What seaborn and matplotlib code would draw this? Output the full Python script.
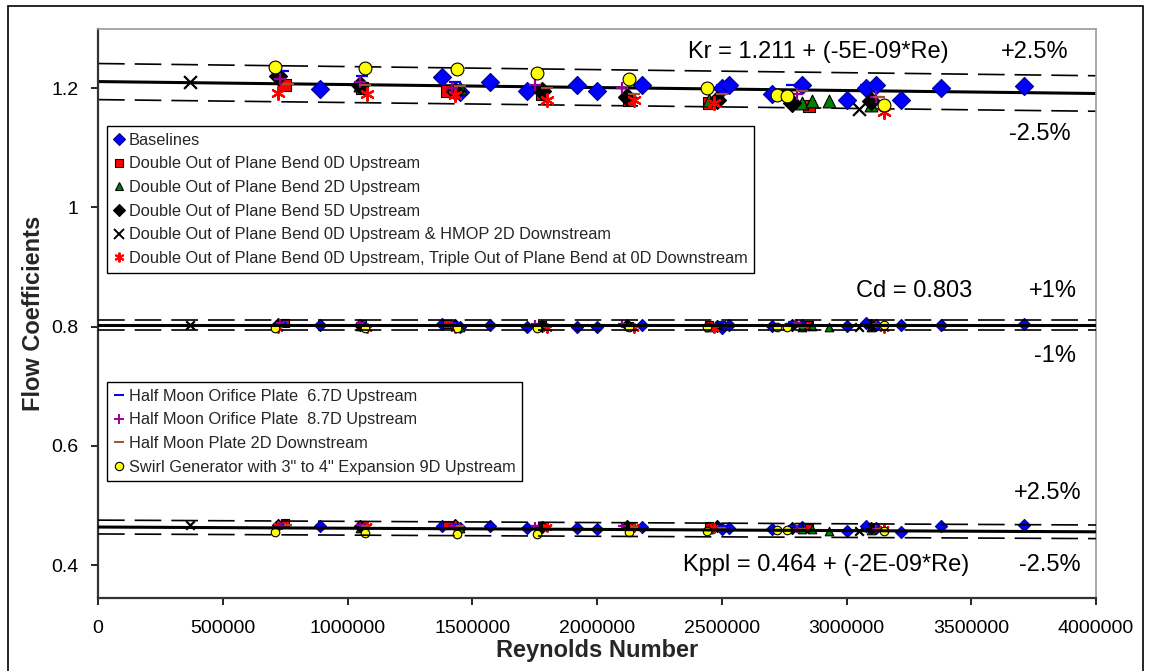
import numpy as np
import pandas as pd
import matplotlib
matplotlib.use("Agg")
import matplotlib.pyplot as plt
import seaborn as sns
from matplotlib.lines import Line2D
from matplotlib.patches import Rectangle
from matplotlib.ticker import FuncFormatter, FixedLocator

sns.set_style("white")
plt.rcParams['font.family'] = ['Liberation Sans', 'DejaVu Sans']

# ---------------- data (Reynolds numbers in units of 1e6) ----------------
baseline_re = [0.89, 1.38, 1.45, 1.57, 1.72, 1.92, 2.00, 2.18, 2.50, 2.53, 2.70, 2.82, 3.00, 3.08, 3.12, 3.22, 3.38, 3.71]
baseline_kr = [1.198, 1.218, 1.193, 1.210, 1.195, 1.205, 1.196, 1.205, 1.200, 1.205, 1.190, 1.205, 1.180, 1.200, 1.205, 1.180, 1.200, 1.204]
baseline_cd = [0.802, 0.804, 0.800, 0.802, 0.799, 0.800, 0.799, 0.802, 0.798, 0.803, 0.801, 0.803, 0.801, 0.806, 0.803, 0.802, 0.802, 0.804]
baseline_kppl = [0.465, 0.466, 0.462, 0.466, 0.462, 0.463, 0.461, 0.464, 0.460, 0.462, 0.460, 0.464, 0.458, 0.465, 0.462, 0.456, 0.465, 0.467]

dop0_re = [0.75, 1.06, 1.40, 1.78, 2.13, 2.45, 2.85]
dop0_kr = [1.205, 1.200, 1.195, 1.190, 1.180, 1.175, 1.170]
dop0_cd = [0.806, 0.805, 0.804, 0.802, 0.801, 0.802, 0.803]
dop0_kppl = [0.470, 0.468, 0.467, 0.465, 0.466, 0.465, 0.463]

dop2_re = [1.05, 1.45, 2.45, 2.82, 2.86, 2.93, 3.10]
dop2_kr = [1.205, 1.200, 1.180, 1.175, 1.178, 1.178, 1.172]
dop2_cd = [0.801, 0.800, 0.800, 0.800, 0.801, 0.800, 0.800]
dop2_kppl = [0.462, 0.462, 0.460, 0.460, 0.460, 0.458, 0.459]

dop5_re = [0.72, 1.05, 1.43, 1.78, 2.12, 2.48, 2.78, 3.10]
dop5_kr = [1.220, 1.205, 1.195, 1.195, 1.185, 1.180, 1.175, 1.178]
dop5_cd = [0.804, 0.802, 0.803, 0.801, 0.802, 0.801, 0.802, 0.802]
dop5_kppl = [0.468, 0.466, 0.467, 0.464, 0.465, 0.465, 0.462, 0.462]

hmop2_re = [0.37, 3.05]
hmop2_kr = [1.210, 1.165]
hmop2_cd = [0.803, 0.800]
hmop2_kppl = [0.467, 0.457]

triple_re = [0.72, 1.08, 1.43, 1.80, 2.15, 2.47, 3.15]
triple_kr = [1.192, 1.190, 1.188, 1.180, 1.180, 1.175, 1.160]
triple_cd = [0.797, 0.797, 0.798, 0.798, 0.797, 0.798, 0.798]
triple_kppl = [0.466, 0.465, 0.465, 0.464, 0.464, 0.463, 0.461]

hm67_re = [0.74, 1.06, 1.43, 2.50, 2.78, 3.08]
hm67_kr = [1.228, 1.220, 1.210, 1.205, 1.205, 1.205]
hm67_cd = [0.806, 0.806, 0.806, 0.807, 0.807, 0.808]
hm67_kppl = [0.468, 0.467, 0.467, 0.466, 0.465, 0.464]

hm87_re = [0.73, 1.05, 1.42, 1.75, 2.10, 2.80, 3.12]
hm87_kr = [1.215, 1.210, 1.200, 1.205, 1.200, 1.190, 1.185]
hm87_cd = [0.806, 0.806, 0.804, 0.805, 0.805, 0.806, 0.805]
hm87_kppl = [0.466, 0.468, 0.466, 0.466, 0.465, 0.460, 0.460]

hmp2_re = [0.76, 1.07, 1.45, 1.80, 2.15, 2.50, 2.82, 3.13]
hmp2_kr = [1.207, 1.205, 1.203, 1.200, 1.190, 1.190, 1.195, 1.185]
hmp2_cd = [0.802, 0.802, 0.801, 0.801, 0.800, 0.801, 0.800, 0.801]
hmp2_kppl = [0.467, 0.466, 0.465, 0.463, 0.464, 0.463, 0.461, 0.460]

swirl_re = [0.71, 1.07, 1.44, 1.76, 2.13, 2.44, 2.72, 2.76, 3.15]
swirl_kr = [1.236, 1.234, 1.232, 1.225, 1.215, 1.200, 1.188, 1.186, 1.172]
swirl_cd = [0.798, 0.798, 0.798, 0.798, 0.799, 0.800, 0.800, 0.800, 0.803]
swirl_kppl = [0.455, 0.454, 0.453, 0.452, 0.456, 0.458, 0.459, 0.459, 0.458]

# fit equations shown on the chart
kr_intercept, kr_slope, kr_band = 1.211, -5e-9, 0.025
cd_value, cd_band = 0.803, 0.01
kppl_intercept, kppl_slope, kppl_band = 0.464, -2e-9, 0.025
fit_re = [0, 4000000]

x_ticks = [0, 500000, 1000000, 1500000, 2000000, 2500000, 3000000, 3500000, 4000000]
y_ticks = [0.4, 0.6, 0.8, 1.0, 1.2]

series = [
    ("Baselines", baseline_re, baseline_kr, baseline_cd, baseline_kppl, "D", "#0000FF", "#00008B"),
    ("Double Out of Plane Bend 0D Upstream", dop0_re, dop0_kr, dop0_cd, dop0_kppl, "s", "#FF0000", "black"),
    ("Double Out of Plane Bend 2D Upstream", dop2_re, dop2_kr, dop2_cd, dop2_kppl, "^", "#008000", "black"),
    ("Double Out of Plane Bend 5D Upstream", dop5_re, dop5_kr, dop5_cd, dop5_kppl, "D", "black", "black"),
    ("Double Out of Plane Bend 0D Upstream & HMOP 2D Downstream", hmop2_re, hmop2_kr, hmop2_cd, hmop2_kppl, "x", "black", None),
    ("Double Out of Plane Bend 0D Upstream, Triple Out of Plane Bend at 0D Downstream", triple_re, triple_kr, triple_cd, triple_kppl, (6, 2, 0), "#FF0000", None),
    ("Half Moon Orifice Plate  6.7D Upstream", hm67_re, hm67_kr, hm67_cd, hm67_kppl, "_", "#0000FF", None),
    ("Half Moon Orifice Plate  8.7D Upstream", hm87_re, hm87_kr, hm87_cd, hm87_kppl, "+", "#990099", None),
    ("Half Moon Plate 2D Downstream", hmp2_re, hmp2_kr, hmp2_cd, hmp2_kppl, "_", "#A0522D", None),
    ("Swirl Generator with 3\" to 4\" Expansion 9D Upstream", swirl_re, swirl_kr, swirl_cd, swirl_kppl, "o", "#FFFF00", "black"),
]

W, H = 1151, 671
fig = plt.figure(figsize=(W / 100, H / 100), dpi=100)
ax = fig.add_axes([98 / W, 1 - 598 / H, 998 / W, 569.5 / H])

# ---------------- fit and tolerance lines ----------------
re_arr = np.array(fit_re, dtype=float)
kr_fit = kr_intercept + kr_slope * re_arr
cd_fit = np.array([cd_value, cd_value])
kppl_fit = kppl_intercept + kppl_slope * re_arr

for fit, band, zo in [(kr_fit, kr_band, 2), (cd_fit, cd_band, 4), (kppl_fit, kppl_band, 4)]:
    for f in (1 + band, 1 - band):
        sns.lineplot(x=re_arr, y=fit * f, ax=ax, color="black", lw=1.2,
                     dashes=False, zorder=zo).lines[-1].set_dashes((16, 6))
    sns.lineplot(x=re_arr, y=fit, ax=ax, color="black", lw=2.2, zorder=zo)

# ---------------- data points ----------------
handles = []
for name, re, kr, cd, kp, mk, col, ec in series:
    re_vals = np.array(re) * 1e6
    filled = mk not in ("x", "+", "_") and not isinstance(mk, tuple)
    for vals, size in [(kr, 85), (cd, 38), (kp, 38)]:
        kw = dict(marker=mk, s=size, ax=ax, zorder=3)
        if filled:
            kw.update(color=col, edgecolor=ec, linewidth=0.8)
        else:
            kw.update(color=col, linewidth=1.6)
        sns.scatterplot(x=re_vals, y=vals, **kw)
    if filled:
        h = Line2D([], [], ls="none", marker=mk, markersize=6, markerfacecolor=col,
                   markeredgecolor=ec, markeredgewidth=0.8, label=name)
    else:
        h = Line2D([], [], ls="none", marker=mk, markersize=7, color=col,
                   markeredgewidth=1.4, label=name)
    handles.append(h)

# ---------------- axes styling ----------------
ax.set_xlim(0, 4000000)
ax.set_ylim(0.345, 1.3)
ax.xaxis.set_major_locator(FixedLocator(x_ticks))
ax.yaxis.set_major_locator(FixedLocator(y_ticks))
ax.xaxis.set_major_formatter(FuncFormatter(lambda v, p: f"{int(round(v))}"))
ax.yaxis.set_major_formatter(FuncFormatter(lambda v, p: f"{v:g}"))
ax.tick_params(axis="both", which="major", direction="out", length=5, width=1.2,
               labelsize=14, colors="black", bottom=True, left=True)
ax.tick_params(axis="x", pad=11)
ax.tick_params(axis="y", pad=9)
for side in ("left", "bottom"):
    ax.spines[side].set_color("#333333")
    ax.spines[side].set_linewidth(1.6)
for side in ("top", "right"):
    ax.spines[side].set_color("#999999")
    ax.spines[side].set_linewidth(1.2)

ax.set_xlabel("Reynolds Number", fontsize=17, fontweight="bold")
ax.set_ylabel("Flow Coefficients", fontsize=17, fontweight="bold")
ax.xaxis.set_label_coords(0.5, (598 - 650) / 569.5)
ax.xaxis.label.set_va("center")
ax.yaxis.set_label_coords((34 - 98) / 998, 0.5)
ax.yaxis.label.set_va("center")

# ---------------- annotations ----------------
tk = dict(fontsize=17, color="black", va="center", ha="left")
ax.text(2365000, 1.26, "Kr = 1.211 + (-5E-09*Re)", **tk)
ax.text(3620000, 1.26, "+2.5%", **tk)
ax.text(3650000, 1.123, "-2.5%", **tk)
ax.text(3040000, 0.860, "Cd = 0.803", **tk)
ax.text(3730000, 0.860, "+1%", **tk)
ax.text(3750000, 0.751, "-1%", **tk)
ax.text(3670000, 0.521, "+2.5%", **tk)
ax.text(2345000, 0.400, "Kppl = 0.464 + (-2E-09*Re)", **tk)
ax.text(3690000, 0.400, "-2.5%", **tk)

# ---------------- legends ----------------
lkw = dict(frameon=True, fancybox=False, fontsize=11.8, handlelength=0.7,
           handletextpad=0.25, labelspacing=0.53, borderpad=0.4, borderaxespad=0,
           loc="upper left", framealpha=1)
leg1 = ax.legend(handles=handles[:6], bbox_to_anchor=((107 - 98) / 998, (598 - 126) / 569.5), **lkw)
leg1.get_frame().set_edgecolor("black")
leg1.get_frame().set_linewidth(1.0)
leg1.set_zorder(6)
ax.add_artist(leg1)
leg2 = ax.legend(handles=handles[6:], bbox_to_anchor=((107 - 98) / 998, (598 - 382) / 569.5), **lkw)
leg2.get_frame().set_edgecolor("black")
leg2.get_frame().set_linewidth(1.0)
leg2.set_zorder(6)

# outer chart-area border
fig.patches.append(Rectangle((8 / W, -0.01), (1143 - 8) / W, 1 - 6 / H + 0.01,
                             transform=fig.transFigure, fill=False,
                             edgecolor="black", linewidth=1.2))

fig.savefig("out.png", dpi=100)
